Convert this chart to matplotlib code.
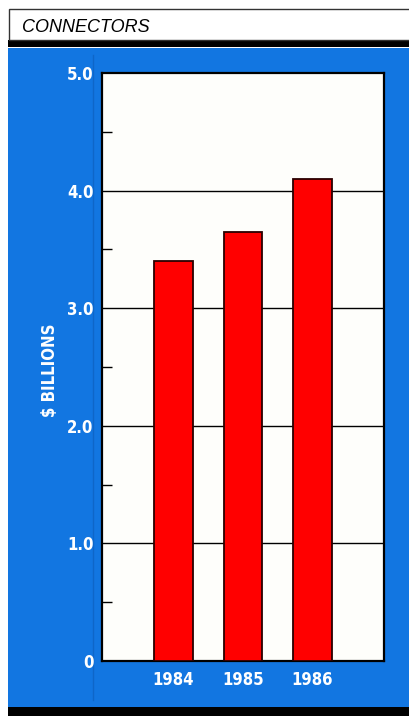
import matplotlib
matplotlib.use("Agg")
import matplotlib.pyplot as plt
from matplotlib.patches import Rectangle
from matplotlib.lines import Line2D

years = ["1984", "1985", "1986"]
values = [3.40, 3.65, 4.10]
ytick_vals = [0, 1, 2, 3, 4, 5]
ytick_labels = ["0", "1.0", "2.0", "3.0", "4.0", "5.0"]
title = "CONNECTORS"
ylabel = "$ BILLIONS"

W, H = 410, 716
BLUE = "#1276E1"
NARROW = ["DejaVu Sans"]

fig = plt.figure(figsize=(W / 100, H / 100), dpi=100)
fig.patch.set_facecolor("white")

def fx(x):
    return x / W

def fy(y):
    return 1 - y / H

# blue panel
fig.patches.append(Rectangle((fx(8), fy(708)), fx(402), 660 / H, transform=fig.transFigure,
                             facecolor=BLUE, edgecolor="none", zorder=-10))
# black bands
fig.patches.append(Rectangle((fx(8), fy(47)), fx(402), 7 / H, transform=fig.transFigure,
                             facecolor="black", edgecolor="none", zorder=-9))
fig.patches.append(Rectangle((fx(8), 0), fx(402), 9 / H, transform=fig.transFigure,
                             facecolor="black", edgecolor="none", zorder=-9))
# title box
fig.patches.append(Rectangle((fx(9), fy(40)), fx(410), 31 / H, transform=fig.transFigure,
                             facecolor="white", edgecolor="#333333", linewidth=1.0, zorder=-9))
fig.text(fx(22), fy(31.5), title, fontsize=13, style="italic",
         family=["Liberation Sans", "DejaVu Sans"], color="black", va="baseline", ha="left")
# faint vertical line in blue panel
fig.add_artist(Line2D([fx(93), fx(93)], [fy(700), fy(55)], transform=fig.transFigure,
                      color="#0E66C8", linewidth=1.0, zorder=-8))

ax = fig.add_axes([fx(102), fy(661), 282 / W, 588 / H])
ax.set_zorder(5)
ax.set_facecolor("#FEFEFB")
x = list(range(len(years)))
ax.bar(x, values, width=0.55, color="#FF0000", edgecolor="#2A0000", linewidth=1.3, zorder=3)
ax.set_xlim(-1.03, 3.03)
ax.set_ylim(0, 5)

for v in ytick_vals[1:-1]:
    ax.axhline(v, color="black", linewidth=1.0, zorder=1)

ax.set_yticks(ytick_vals)
ax.set_yticklabels(ytick_labels, color="white", fontsize=12, fontweight="bold",
                   family=NARROW, fontstretch="condensed")
ax.set_yticks([0.5, 1.5, 2.5, 3.5, 4.5], minor=True)
ax.tick_params(axis="y", which="major", length=0, pad=6)
ax.tick_params(axis="y", which="minor", direction="in", length=7, width=1, color="black")
ax.set_xticks(x)
ax.set_xticklabels(years, color="white", fontsize=12, fontweight="bold",
                   family=NARROW, fontstretch="condensed")
ax.tick_params(axis="x", length=0, pad=7)

for s in ax.spines.values():
    s.set_color("black")
    s.set_linewidth(1.6)

fig.text(fx(50), fy(370), ylabel, rotation=90, color="white", fontsize=12, fontweight="bold",
         family=NARROW, fontstretch="condensed", ha="center", va="center")

fig.savefig("out.png", dpi=100, facecolor=fig.get_facecolor())
